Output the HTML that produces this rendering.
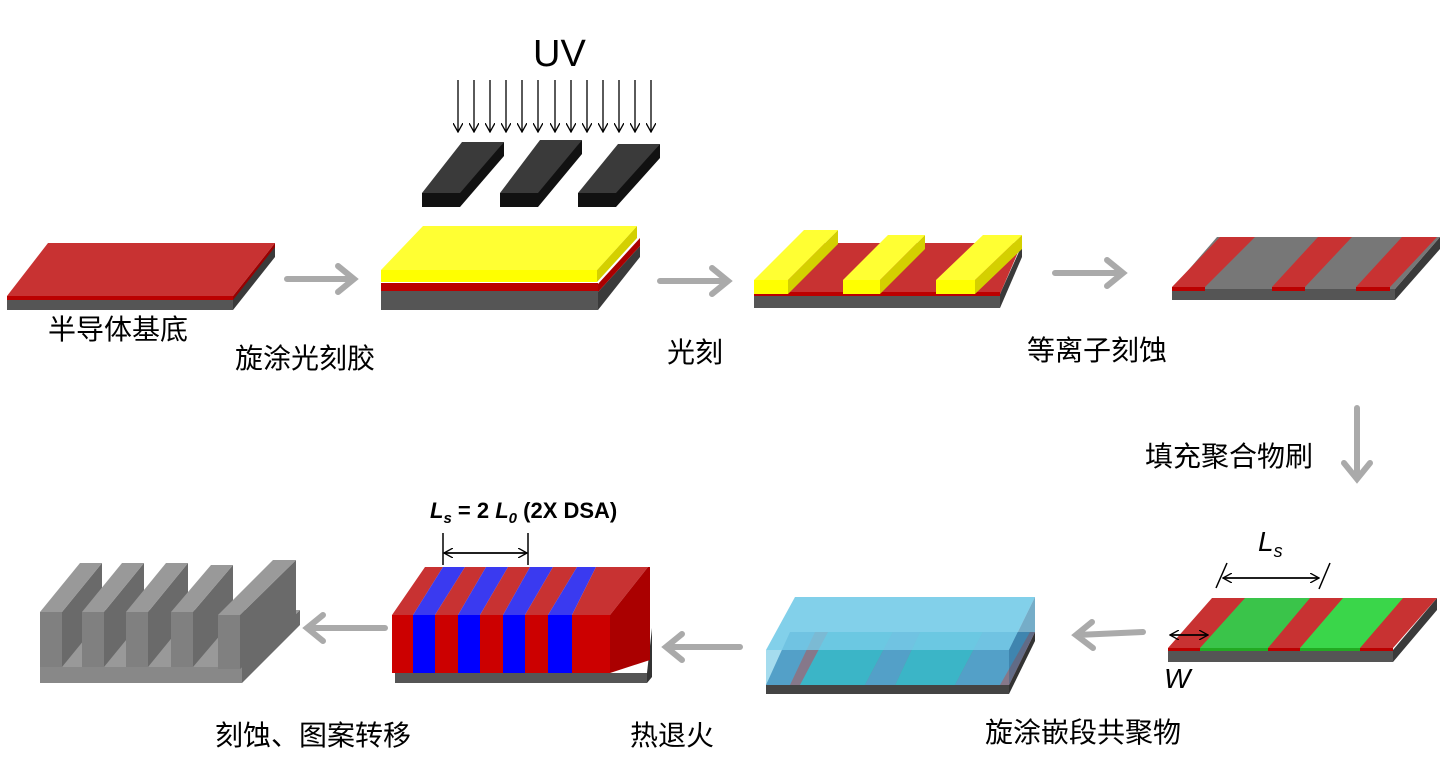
<!DOCTYPE html>
<html><head><meta charset="utf-8"><style>
body{margin:0;background:#fff}
svg{display:block}
.t{font-family:"Liberation Sans","Noto Sans CJK SC",sans-serif;font-size:28px;fill:#000}
</style></head><body>
<svg width="1447" height="766" viewBox="0 0 1447 766" xmlns="http://www.w3.org/2000/svg">
<defs>
<marker id="ah" markerWidth="10" markerHeight="10" refX="9" refY="5" orient="auto" markerUnits="userSpaceOnUse"><path d="M0,0 L9,5 L0,10" fill="none" stroke="#000" stroke-width="1.3"/></marker>
</defs>
<g stroke="#aaa" stroke-width="6" fill="none" stroke-linecap="round">
<path d="M287,279 H353 M338,266 L354,279 L338,292"/>
<path d="M660,281 H727 M712,268 L728,281 L712,294"/>
<path d="M1055,273 H1122 M1107,260 L1123,273 L1107,286"/>
<path d="M1357,408 V478 M1344,463 L1357,479 L1370,463"/>
<path d="M1143,632 L1077,635 M1092,622 L1076,635 L1093,648"/>
<path d="M740,647 H667 M682,634 L666,647 L682,660"/>
<path d="M385,628 H308 M323,615 L307,628 L323,641"/>
</g>

<!-- slab 1 -->
<polygon points="233,299 275,246 275,257 233,310" fill="#3a3a3a"/>
<rect x="7" y="299" width="226" height="11" fill="#555"/>
<polygon points="7,296 233,296 275,243 48,243" fill="#c83232"/>
<polygon points="233,296 275,243 275,247 233,300" fill="#900"/>
<rect x="7" y="296" width="226" height="4" fill="#b00"/>

<!-- UV -->
<text x="533" y="66" style="font-family:'Liberation Sans',sans-serif;font-size:38px">UV</text>
<g stroke="#000" stroke-width="1.3" marker-end="url(#ah)">
<line x1="458" y1="80" x2="458" y2="132"/><line x1="474" y1="80" x2="474" y2="132"/><line x1="490" y1="80" x2="490" y2="132"/><line x1="506" y1="80" x2="506" y2="132"/><line x1="522" y1="80" x2="522" y2="132"/><line x1="538" y1="80" x2="538" y2="132"/><line x1="555" y1="80" x2="555" y2="132"/><line x1="571" y1="80" x2="571" y2="132"/><line x1="587" y1="80" x2="587" y2="132"/><line x1="603" y1="80" x2="603" y2="132"/><line x1="619" y1="80" x2="619" y2="132"/><line x1="635" y1="80" x2="635" y2="132"/><line x1="651" y1="80" x2="651" y2="132"/>
</g>
<g>
<polygon points="422,193 462,142 504,142 464,193" fill="#3a3a3a"/><polygon points="460,193 504,142 504,156 460,207" fill="#111"/><rect x="422" y="193" width="38" height="14" fill="#111"/>
<polygon points="500,193 540,140 582,140 542,193" fill="#3a3a3a"/><polygon points="538,193 582,140 582,154 538,207" fill="#111"/><rect x="500" y="193" width="38" height="14" fill="#111"/>
<polygon points="578,193 618,144 660,144 620,193" fill="#3a3a3a"/><polygon points="616,193 660,144 660,158 616,207" fill="#111"/><rect x="578" y="193" width="38" height="14" fill="#111"/>
</g>

<!-- slab 2 -->
<polygon points="598,292 640,246 640,257 598,310" fill="#3a3a3a"/>
<rect x="381" y="291" width="217" height="19" fill="#555"/>
<polygon points="598,284 640,238 640,246 598,292" fill="#a00"/>
<rect x="381" y="283" width="217" height="8" fill="#b00"/>
<polygon points="597,270 637,226 637,238 597,282" fill="#d4d000"/>
<rect x="381" y="270" width="216" height="12" fill="#ff0"/>
<polygon points="381,270 597,270 637,226 423,226" fill="#ffff33"/>

<!-- slab 3 -->
<polygon points="1000,294 1022,245 1022,257 1000,308" fill="#3a3a3a"/>
<rect x="754" y="294" width="246" height="14" fill="#555"/>
<polygon points="754,294 1000,294 1022,243 800,243" fill="#c83232"/>
<rect x="754" y="292" width="246" height="4" fill="#b00"/>
<g>
<polygon points="788,280 838,230 838,244 788,294" fill="#d4d000"/><rect x="754" y="280" width="34" height="14" fill="#ff0"/><polygon points="754,280 788,280 838,230 804,230" fill="#ffff33"/>
<polygon points="880,280 925,235 925,249 880,294" fill="#d4d000"/><rect x="843" y="280" width="37" height="14" fill="#ff0"/><polygon points="843,280 880,280 925,235 888,235" fill="#ffff33"/>
<polygon points="975,280 1022,235 1022,249 975,294" fill="#d4d000"/><rect x="936" y="280" width="39" height="14" fill="#ff0"/><polygon points="936,280 975,280 1022,235 983,235" fill="#ffff33"/>
</g>

<!-- slab 4 -->
<polygon points="1395,289 1440,237 1440,249 1395,300" fill="#3a3a3a"/>
<rect x="1172" y="289" width="223" height="11" fill="#555"/>
<polygon points="1172,289 1395,289 1440,237 1217,237" fill="#777"/>
<polygon points="1172,287 1205,287 1255,237 1220,237" fill="#c83232"/><rect x="1172" y="287" width="33" height="4" fill="#b00"/>
<polygon points="1272,287 1305,287 1352,237 1318,237" fill="#c83232"/><rect x="1272" y="287" width="33" height="4" fill="#b00"/>
<polygon points="1356,287 1390,287 1437,237 1402,237" fill="#c83232"/><rect x="1356" y="287" width="34" height="4" fill="#b00"/>

<!-- slab 5 -->
<polygon points="1393,650 1437,598 1437,610 1393,662" fill="#3a3a3a"/>
<rect x="1168" y="650" width="225" height="12" fill="#555"/>
<polygon points="1168,648 1393,648 1437,598 1212,598" fill="#c83232"/>
<polygon points="1200,648 1268,648 1310,598 1245,598" fill="#3ac44a"/>
<polygon points="1300,648 1360,648 1403,598 1343,598" fill="#3ad64a"/>
<rect x="1168" y="648" width="225" height="3" fill="#b00"/>
<rect x="1200" y="648" width="68" height="3" fill="#2a2"/><rect x="1300" y="648" width="60" height="3" fill="#2a2"/>
<g stroke="#000" stroke-width="1.5">
<line x1="1223" y1="578" x2="1319" y2="578" marker-end="url(#ah)"/><line x1="1319" y1="578" x2="1223" y2="578" marker-end="url(#ah)"/>
<line x1="1227" y1="563" x2="1216" y2="588"/><line x1="1330" y1="563" x2="1319" y2="589"/>
<line x1="1170" y1="635" x2="1208" y2="635" marker-end="url(#ah)"/><line x1="1208" y1="635" x2="1170" y2="635" marker-end="url(#ah)"/>
</g>
<text x="1258" y="551" style="font-family:'Liberation Sans',sans-serif;font-size:28px;font-style:italic">L<tspan font-size="18" dy="6">s</tspan></text>
<text x="1164" y="688" style="font-family:'Liberation Sans',sans-serif;font-size:28px;font-style:italic">W</text>

<!-- slab 6 -->
<rect x="766" y="685" width="243" height="9" fill="#444"/>
<polygon points="1009,685 1035,632 1035,641 1009,694" fill="#333"/>
<polygon points="766,685 1009,685 1035,632 795,632" fill="#bb2222"/>
<polygon points="766,685 790,685 815,632 790,632" fill="#4a7aaa"/>
<polygon points="800,685 865,685 893,632 828,632" fill="#16a9a9"/>
<polygon points="865,685 895,685 920,632 893,632" fill="#4a7aaa"/>
<polygon points="895,685 955,685 983,632 920,632" fill="#16a9a9"/>
<polygon points="955,685 1000,685 1030,632 983,632" fill="#4a7aaa"/>
<rect x="766" y="650" width="243" height="35" fill="#5bc0e0" fill-opacity="0.55"/>
<polygon points="766,650 1009,650 1035,597 795,597" fill="#74cbe8" fill-opacity="0.9"/>
<polygon points="1009,650 1035,597 1035,632 1009,685" fill="#3a8ab0" fill-opacity="0.7"/>

<!-- slab 7 -->
<rect x="395" y="673" width="252" height="10" fill="#555"/>
<polygon points="647,673 652,628 652,677 647,683" fill="#333"/>
<g>
<polygon points="392,615 425,567 443,567 413,615" fill="#c83232"/>
<polygon points="413,615 443,567 465,567 435,615" fill="#3a3af0"/>
<polygon points="435,615 465,567 486,567 458,615" fill="#c83232"/>
<polygon points="458,615 486,567 508,567 480,615" fill="#3a3af0"/>
<polygon points="480,615 508,567 530,567 503,615" fill="#c83232"/>
<polygon points="503,615 530,567 553,567 525,615" fill="#3a3af0"/>
<polygon points="525,615 553,567 577,567 548,615" fill="#c83232"/>
<polygon points="548,615 577,567 596,567 572,615" fill="#3a3af0"/>
<polygon points="572,615 596,567 648,567 610,615" fill="#c83232"/>
<polygon points="610,615 648,567 650,567 650,660 610,673" fill="#a00"/>
<rect x="392" y="615" width="21" height="58" fill="#c00"/>
<rect x="413" y="615" width="22" height="58" fill="#00f"/>
<rect x="435" y="615" width="23" height="58" fill="#c00"/>
<rect x="458" y="615" width="22" height="58" fill="#00f"/>
<rect x="480" y="615" width="23" height="58" fill="#c00"/>
<rect x="503" y="615" width="22" height="58" fill="#00f"/>
<rect x="525" y="615" width="23" height="58" fill="#c00"/>
<rect x="548" y="615" width="24" height="58" fill="#00f"/>
<rect x="572" y="615" width="38" height="58" fill="#c00"/>
</g>
<g stroke="#000" stroke-width="1.5">
<line x1="443" y1="533" x2="443" y2="565"/><line x1="528" y1="533" x2="528" y2="565"/>
<line x1="444" y1="553" x2="527" y2="553" marker-end="url(#ah)"/><line x1="527" y1="553" x2="444" y2="553" marker-end="url(#ah)"/>
</g>
<text x="430" y="518" style="font-family:'Liberation Sans',sans-serif;font-size:22px;font-weight:bold"><tspan font-style="italic">L<tspan font-size="15" dy="5">s</tspan></tspan><tspan dy="-5"> = 2 </tspan><tspan font-style="italic">L<tspan font-size="15" dy="5">0</tspan></tspan><tspan dy="-5"> (2X DSA)</tspan></text>

<!-- slab 8 -->
<rect x="40" y="667" width="202" height="16" fill="#888"/>
<polygon points="242,667 300,610 300,625 242,683" fill="#6a6a6a"/>
<polygon points="40,667 242,667 300,610 98,610" fill="#999"/>
<g>
<polygon points="62,612 102,563 102,618 62,667" fill="#6a6a6a"/><polygon points="40,612 80,563 102,563 62,612" fill="#999"/><rect x="40" y="612" width="22" height="55" fill="#808080"/>
<polygon points="104,612 144,563 144,618 104,667" fill="#6a6a6a"/><polygon points="82,612 122,563 144,563 104,612" fill="#999"/><rect x="82" y="612" width="22" height="55" fill="#808080"/>
<polygon points="148,612 188,563 188,618 148,667" fill="#6a6a6a"/><polygon points="126,612 166,563 188,563 148,612" fill="#999"/><rect x="126" y="612" width="22" height="55" fill="#808080"/>
<polygon points="193,612 233,565 233,620 193,667" fill="#6a6a6a"/><polygon points="171,612 211,565 233,565 193,612" fill="#999"/><rect x="171" y="612" width="22" height="55" fill="#808080"/>
<polygon points="240,615 296,560 296,622 240,669" fill="#6a6a6a"/><polygon points="218,615 273,560 296,560 240,615" fill="#9a9a9a"/><rect x="218" y="615" width="22" height="54" fill="#808080"/>
</g>

<!-- labels -->
<text class="t" x="48" y="339">半导体基底</text>
<text class="t" x="235" y="368">旋涂光刻胶</text>
<text class="t" x="667" y="362">光刻</text>
<text class="t" x="1027" y="360">等离子刻蚀</text>
<text class="t" x="1145" y="466">填充聚合物刷</text>
<text class="t" x="985" y="742">旋涂嵌段共聚物</text>
<text class="t" x="630" y="745">热退火</text>
<text class="t" x="215" y="745">刻蚀、图案转移</text>
</svg>
</body></html>
